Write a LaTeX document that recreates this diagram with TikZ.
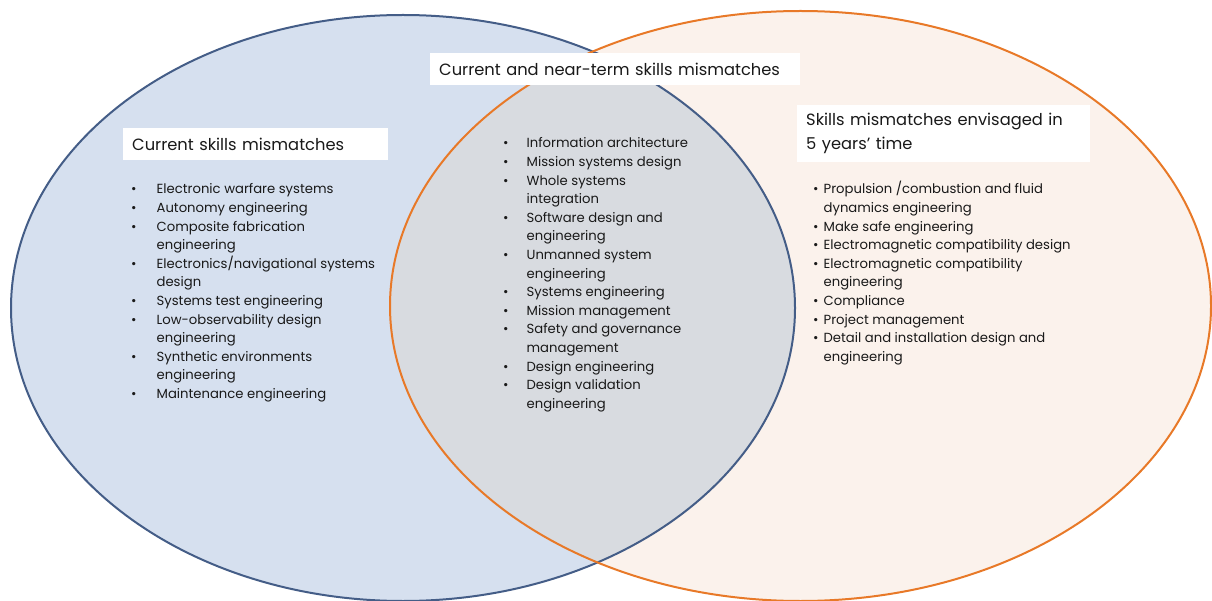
\documentclass[tikz,border=0pt]{standalone}
\usepackage{fontspec}
\setmainfont{Poppins}
\usepackage{tikz}
\definecolor{skyfill}{RGB}{214,224,239}
\definecolor{peachfill}{RGB}{251,242,236}
\definecolor{bothfill}{RGB}{216,219,224}
\definecolor{slateblue}{RGB}{68,93,135}
\definecolor{burntorange}{RGB}{232,121,40}
\definecolor{inktext}{RGB}{25,25,25}

\newcommand{\headfont}{\fontsize{16.3}{24}\selectfont}
\newcommand{\listfont}{\fontsize{13.2}{18.6}\selectfont}

\tikzset{
  heading/.style={fill=white, anchor=north west, inner xsep=9pt, inner ysep=0pt,
    align=left, font=\headfont, text=inktext},
  skills/.style={anchor=base west, inner sep=0pt, font=\listfont, text=inktext}
}

\begin{document}
\begin{tikzpicture}[x=1pt, y=-1pt]
\useasboundingbox (0,0) rectangle (1212,601);
% the two sets and their overlap
\fill[skyfill] (403,308) ellipse [x radius=392pt, y radius=293pt];
\fill[peachfill] (800.5,306) ellipse [x radius=410.5pt, y radius=295pt];
\begin{scope}
\clip (403,308) ellipse [x radius=392pt, y radius=293pt];
\fill[bothfill] (800.5,306) ellipse [x radius=410.5pt, y radius=295pt];
\end{scope}
\draw[slateblue, line width=2pt] (403,308) ellipse [x radius=392pt, y radius=293pt];
\draw[burntorange, line width=2pt] (800.5,306) ellipse [x radius=410.5pt, y radius=295pt];

% titles
\node[heading, text width=247pt, minimum height=32pt] (nowtitle) at (123,128)
  {Current skills mismatches};
\node[heading, text width=352pt, minimum height=32pt] (bothtitle) at (430,53)
  {Current and near-term skills mismatches};
\node[heading, text width=275pt, minimum height=57pt] (latertitle) at (797,105)
  {Skills mismatches envisaged in\\5 years' time};

% lists of skills
\node[skills] (nowlist) at (131,194) {\begin{tabular}[t]{@{}l@{\hspace{20pt}}l@{}}
\textbullet & Electronic warfare systems\\
\textbullet & Autonomy engineering\\
\textbullet & Composite fabrication\\
 & engineering\\
\textbullet & Electronics/navigational systems\\
 & design\\
\textbullet & Systems test engineering\\
\textbullet & Low-observability design\\
 & engineering\\
\textbullet & Synthetic environments\\
 & engineering\\
\textbullet & Maintenance engineering
\end{tabular}};

\node[skills] (bothlist) at (503,148) {\begin{tabular}[t]{@{}l@{\hspace{18pt}}l@{}}
\textbullet & Information architecture\\
\textbullet & Mission systems design\\
\textbullet & Whole systems\\
 & integration\\
\textbullet & Software design and\\
 & engineering\\
\textbullet & Unmanned system\\
 & engineering\\
\textbullet & Systems engineering\\
\textbullet & Mission management\\
\textbullet & Safety and governance\\
 & management\\
\textbullet & Design engineering\\
\textbullet & Design validation\\
 & engineering
\end{tabular}};

\node[skills] (laterlist) at (813,194) {\begin{tabular}[t]{@{}l@{\hspace{5pt}}l@{}}
\textbullet & Propulsion /combustion and fluid\\
 & dynamics engineering\\
\textbullet & Make safe engineering\\
\textbullet & Electromagnetic compatibility design\\
\textbullet & Electromagnetic compatibility\\
 & engineering\\
\textbullet & Compliance\\
\textbullet & Project management\\
\textbullet & Detail and installation design and\\
 & engineering
\end{tabular}};
\end{tikzpicture}
\end{document}
